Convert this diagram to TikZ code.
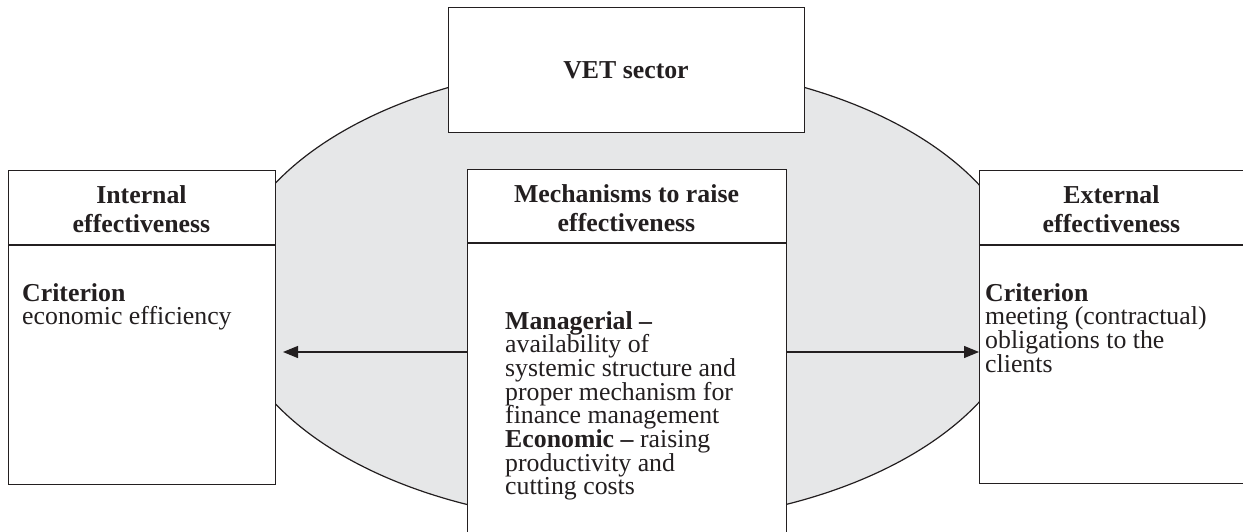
\documentclass[tikz,border=0pt]{standalone}
\usepackage{fontspec}
\setmainfont{Liberation Serif}
\usetikzlibrary{arrows.meta}
\definecolor{ink}{HTML}{231F20}
\definecolor{oval}{HTML}{E6E7E8}
% fixed leading, whatever the glyph heights
\newcommand{\bodyfont}{\fontsize{25.8}{23.7}\selectfont\lineskiplimit=-100pt\lineskip=0pt}
\newcommand{\headfont}{\fontsize{25.8}{29}\selectfont\bfseries\lineskiplimit=-100pt\lineskip=0pt}
% stacked lines whose reference point is the first baseline
\newcommand{\leftlines}[1]{\vtop{\halign{##\hfil\cr#1\crcr}}}
\newcommand{\midlines}[1]{\vtop{\halign{\hfil##\hfil\cr#1\crcr}}}
\tikzset{
  frame/.style={draw=ink, fill=white, line width=1.2pt, inner sep=0pt, anchor=north west},
  rule/.style={draw=ink, line width=1.2pt},
  headtxt/.style={text=ink, inner sep=0pt, anchor=base, font=\headfont},
  bodytxt/.style={text=ink, inner sep=0pt, anchor=base west, font=\bodyfont},
  arr/.style={draw=ink, line width=1.2pt, -{Triangle[length=15pt,width=12pt]}}
}
\begin{document}
\begin{tikzpicture}[x=1pt, y=-1pt]
\useasboundingbox (0,0) rectangle (1243,532);
\clip (0,0) rectangle (1243,532);

% the sector as a shaded oval behind the boxes
\filldraw[fill=oval, draw=ink, line width=1.2pt] (626.5,293.5) ellipse [x radius=400, y radius=230];

% boxes
\node[frame, minimum width=356, minimum height=125] (vet) at (448,7) {};
\node[frame, minimum width=267, minimum height=314] (left) at (8,170) {};
\node[frame, minimum width=319, minimum height=380] (mech) at (467,169) {};
\node[frame, minimum width=270, minimum height=313] (right) at (979,170) {};

% header rules
\draw[rule] (left.west |- 0,245) -- (left.east |- 0,245);
\draw[rule] (mech.west |- 0,243) -- (mech.east |- 0,243);
\draw[rule] (right.west |- 0,245) -- (right.east |- 0,245);

% titles
\node[headtxt] (vett) at (626,79) {VET sector};
\node[headtxt] (lt) at (141.5,204) {\midlines{Internal\cr effectiveness}};
\node[headtxt] (mt) at (626.5,202) {\midlines{Mechanisms to raise\cr effectiveness}};
\node[headtxt] (rt) at (1111.5,204) {\midlines{External\cr effectiveness}};

% body texts
\node[bodytxt] (lb) at (22,301) {\leftlines{\textbf{Criterion}\cr economic efficiency}};
\node[bodytxt] (mb) at (505,329) {\leftlines{\textbf{Managerial –}\cr availability of\cr systemic structure and\cr proper mechanism for\cr finance management\cr \textbf{Economic –} raising\cr productivity and\cr cutting costs}};
\node[bodytxt] (rb) at (985,301) {\leftlines{\textbf{Criterion}\cr meeting (contractual)\cr obligations to the\cr clients}};

% arrows from the mechanisms to both kinds of effectiveness
\coordinate (ltip) at (283,352);
\draw[arr] (mech.west |- ltip) -- (ltip);
\draw[arr] (mech.east |- ltip) -- (right.west |- ltip);
\end{tikzpicture}
\end{document}
